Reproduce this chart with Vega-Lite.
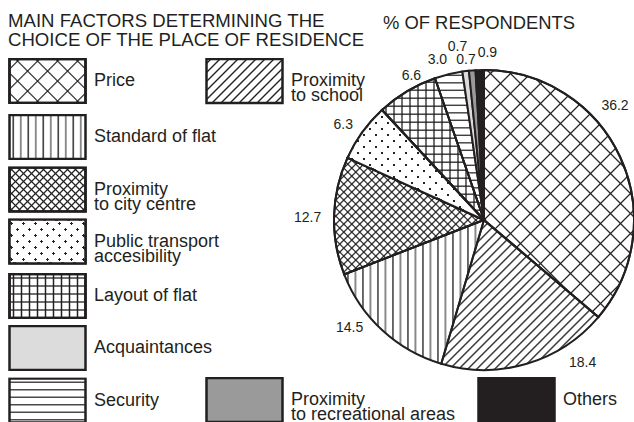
{
"$schema": "https://vega.github.io/schema/vega-lite/v6.json",
"width": 300, "height": 300,
"autosize": {"type": "none"},
"padding": {"left": 334, "top": 70, "right": 0, "bottom": 52},
"background": "white",
"title": {"text": "% OF RESPONDENTS", "anchor": "start", "frame": "group", "dx": 49, "offset": -35, "baseline": "alphabetic", "font": "Liberation Sans", "fontSize": 18.4, "fontWeight": "normal", "color": "#231f20"},
"params": [
{"name": "S20a", "value": [
{"offset":0.021,"color":"transparent"},{"offset":0.025,"color":"#222"},{"offset":0.029,"color":"transparent"},
{"offset":0.071,"color":"transparent"},{"offset":0.075,"color":"#222"},{"offset":0.079,"color":"transparent"},
{"offset":0.121,"color":"transparent"},{"offset":0.125,"color":"#222"},{"offset":0.129,"color":"transparent"},
{"offset":0.171,"color":"transparent"},{"offset":0.175,"color":"#222"},{"offset":0.179,"color":"transparent"},
{"offset":0.221,"color":"transparent"},{"offset":0.225,"color":"#222"},{"offset":0.229,"color":"transparent"},
{"offset":0.271,"color":"transparent"},{"offset":0.275,"color":"#222"},{"offset":0.279,"color":"transparent"},
{"offset":0.321,"color":"transparent"},{"offset":0.325,"color":"#222"},{"offset":0.329,"color":"transparent"},
{"offset":0.371,"color":"transparent"},{"offset":0.375,"color":"#222"},{"offset":0.379,"color":"transparent"},
{"offset":0.421,"color":"transparent"},{"offset":0.425,"color":"#222"},{"offset":0.429,"color":"transparent"},
{"offset":0.471,"color":"transparent"},{"offset":0.475,"color":"#222"},{"offset":0.479,"color":"transparent"},
{"offset":0.521,"color":"transparent"},{"offset":0.525,"color":"#222"},{"offset":0.529,"color":"transparent"},
{"offset":0.571,"color":"transparent"},{"offset":0.575,"color":"#222"},{"offset":0.579,"color":"transparent"},
{"offset":0.621,"color":"transparent"},{"offset":0.625,"color":"#222"},{"offset":0.629,"color":"transparent"},
{"offset":0.671,"color":"transparent"},{"offset":0.675,"color":"#222"},{"offset":0.679,"color":"transparent"},
{"offset":0.721,"color":"transparent"},{"offset":0.725,"color":"#222"},{"offset":0.729,"color":"transparent"},
{"offset":0.771,"color":"transparent"},{"offset":0.775,"color":"#222"},{"offset":0.779,"color":"transparent"},
{"offset":0.821,"color":"transparent"},{"offset":0.825,"color":"#222"},{"offset":0.829,"color":"transparent"},
{"offset":0.871,"color":"transparent"},{"offset":0.875,"color":"#222"},{"offset":0.879,"color":"transparent"},
{"offset":0.921,"color":"transparent"},{"offset":0.925,"color":"#222"},{"offset":0.929,"color":"transparent"},
{"offset":0.971,"color":"transparent"},{"offset":0.975,"color":"#222"},{"offset":0.979,"color":"transparent"}
]},
{"name": "S20b", "value": [
{"offset":0.017,"color":"transparent"},{"offset":0.025,"color":"#222"},{"offset":0.033,"color":"transparent"},
{"offset":0.067,"color":"transparent"},{"offset":0.075,"color":"#222"},{"offset":0.083,"color":"transparent"},
{"offset":0.117,"color":"transparent"},{"offset":0.125,"color":"#222"},{"offset":0.133,"color":"transparent"},
{"offset":0.167,"color":"transparent"},{"offset":0.175,"color":"#222"},{"offset":0.183,"color":"transparent"},
{"offset":0.217,"color":"transparent"},{"offset":0.225,"color":"#222"},{"offset":0.233,"color":"transparent"},
{"offset":0.267,"color":"transparent"},{"offset":0.275,"color":"#222"},{"offset":0.283,"color":"transparent"},
{"offset":0.317,"color":"transparent"},{"offset":0.325,"color":"#222"},{"offset":0.333,"color":"transparent"},
{"offset":0.367,"color":"transparent"},{"offset":0.375,"color":"#222"},{"offset":0.383,"color":"transparent"},
{"offset":0.417,"color":"transparent"},{"offset":0.425,"color":"#222"},{"offset":0.433,"color":"transparent"},
{"offset":0.467,"color":"transparent"},{"offset":0.475,"color":"#222"},{"offset":0.483,"color":"transparent"},
{"offset":0.517,"color":"transparent"},{"offset":0.525,"color":"#222"},{"offset":0.533,"color":"transparent"},
{"offset":0.567,"color":"transparent"},{"offset":0.575,"color":"#222"},{"offset":0.583,"color":"transparent"},
{"offset":0.617,"color":"transparent"},{"offset":0.625,"color":"#222"},{"offset":0.633,"color":"transparent"},
{"offset":0.667,"color":"transparent"},{"offset":0.675,"color":"#222"},{"offset":0.683,"color":"transparent"},
{"offset":0.717,"color":"transparent"},{"offset":0.725,"color":"#222"},{"offset":0.733,"color":"transparent"},
{"offset":0.767,"color":"transparent"},{"offset":0.775,"color":"#222"},{"offset":0.783,"color":"transparent"},
{"offset":0.817,"color":"transparent"},{"offset":0.825,"color":"#222"},{"offset":0.833,"color":"transparent"},
{"offset":0.867,"color":"transparent"},{"offset":0.875,"color":"#222"},{"offset":0.883,"color":"transparent"},
{"offset":0.917,"color":"transparent"},{"offset":0.925,"color":"#222"},{"offset":0.933,"color":"transparent"},
{"offset":0.967,"color":"transparent"},{"offset":0.975,"color":"#222"},{"offset":0.983,"color":"transparent"}
]},
{"name": "V20", "value": [
{"offset":0.016,"color":"transparent"},{"offset":0.025,"color":"#222"},{"offset":0.034,"color":"transparent"},
{"offset":0.066,"color":"transparent"},{"offset":0.075,"color":"#888"},{"offset":0.084,"color":"transparent"},
{"offset":0.116,"color":"transparent"},{"offset":0.125,"color":"#222"},{"offset":0.134,"color":"transparent"},
{"offset":0.166,"color":"transparent"},{"offset":0.175,"color":"#888"},{"offset":0.184,"color":"transparent"},
{"offset":0.216,"color":"transparent"},{"offset":0.225,"color":"#222"},{"offset":0.234,"color":"transparent"},
{"offset":0.266,"color":"transparent"},{"offset":0.275,"color":"#888"},{"offset":0.284,"color":"transparent"},
{"offset":0.316,"color":"transparent"},{"offset":0.325,"color":"#222"},{"offset":0.334,"color":"transparent"},
{"offset":0.366,"color":"transparent"},{"offset":0.375,"color":"#888"},{"offset":0.384,"color":"transparent"},
{"offset":0.416,"color":"transparent"},{"offset":0.425,"color":"#222"},{"offset":0.434,"color":"transparent"},
{"offset":0.466,"color":"transparent"},{"offset":0.475,"color":"#888"},{"offset":0.484,"color":"transparent"},
{"offset":0.516,"color":"transparent"},{"offset":0.525,"color":"#222"},{"offset":0.534,"color":"transparent"},
{"offset":0.566,"color":"transparent"},{"offset":0.575,"color":"#888"},{"offset":0.584,"color":"transparent"},
{"offset":0.616,"color":"transparent"},{"offset":0.625,"color":"#222"},{"offset":0.634,"color":"transparent"},
{"offset":0.666,"color":"transparent"},{"offset":0.675,"color":"#888"},{"offset":0.684,"color":"transparent"},
{"offset":0.716,"color":"transparent"},{"offset":0.725,"color":"#222"},{"offset":0.734,"color":"transparent"},
{"offset":0.766,"color":"transparent"},{"offset":0.775,"color":"#888"},{"offset":0.784,"color":"transparent"},
{"offset":0.816,"color":"transparent"},{"offset":0.825,"color":"#222"},{"offset":0.834,"color":"transparent"},
{"offset":0.866,"color":"transparent"},{"offset":0.875,"color":"#888"},{"offset":0.884,"color":"transparent"},
{"offset":0.916,"color":"transparent"},{"offset":0.925,"color":"#222"},{"offset":0.934,"color":"transparent"},
{"offset":0.966,"color":"transparent"},{"offset":0.975,"color":"#888"},{"offset":0.984,"color":"transparent"}
]},
{"name": "S40", "value": [
{"offset":0.0075,"color":"transparent"},{"offset":0.0125,"color":"#222"},{"offset":0.0175,"color":"transparent"},
{"offset":0.0325,"color":"transparent"},{"offset":0.0375,"color":"#222"},{"offset":0.0425,"color":"transparent"},
{"offset":0.0575,"color":"transparent"},{"offset":0.0625,"color":"#222"},{"offset":0.0675,"color":"transparent"},
{"offset":0.0825,"color":"transparent"},{"offset":0.0875,"color":"#222"},{"offset":0.0925,"color":"transparent"},
{"offset":0.1075,"color":"transparent"},{"offset":0.1125,"color":"#222"},{"offset":0.1175,"color":"transparent"},
{"offset":0.1325,"color":"transparent"},{"offset":0.1375,"color":"#222"},{"offset":0.1425,"color":"transparent"},
{"offset":0.1575,"color":"transparent"},{"offset":0.1625,"color":"#222"},{"offset":0.1675,"color":"transparent"},
{"offset":0.1825,"color":"transparent"},{"offset":0.1875,"color":"#222"},{"offset":0.1925,"color":"transparent"},
{"offset":0.2075,"color":"transparent"},{"offset":0.2125,"color":"#222"},{"offset":0.2175,"color":"transparent"},
{"offset":0.2325,"color":"transparent"},{"offset":0.2375,"color":"#222"},{"offset":0.2425,"color":"transparent"},
{"offset":0.2575,"color":"transparent"},{"offset":0.2625,"color":"#222"},{"offset":0.2675,"color":"transparent"},
{"offset":0.2825,"color":"transparent"},{"offset":0.2875,"color":"#222"},{"offset":0.2925,"color":"transparent"},
{"offset":0.3075,"color":"transparent"},{"offset":0.3125,"color":"#222"},{"offset":0.3175,"color":"transparent"},
{"offset":0.3325,"color":"transparent"},{"offset":0.3375,"color":"#222"},{"offset":0.3425,"color":"transparent"},
{"offset":0.3575,"color":"transparent"},{"offset":0.3625,"color":"#222"},{"offset":0.3675,"color":"transparent"},
{"offset":0.3825,"color":"transparent"},{"offset":0.3875,"color":"#222"},{"offset":0.3925,"color":"transparent"},
{"offset":0.4075,"color":"transparent"},{"offset":0.4125,"color":"#222"},{"offset":0.4175,"color":"transparent"},
{"offset":0.4325,"color":"transparent"},{"offset":0.4375,"color":"#222"},{"offset":0.4425,"color":"transparent"},
{"offset":0.4575,"color":"transparent"},{"offset":0.4625,"color":"#222"},{"offset":0.4675,"color":"transparent"},
{"offset":0.4825,"color":"transparent"},{"offset":0.4875,"color":"#222"},{"offset":0.4925,"color":"transparent"},
{"offset":0.5075,"color":"transparent"},{"offset":0.5125,"color":"#222"},{"offset":0.5175,"color":"transparent"},
{"offset":0.5325,"color":"transparent"},{"offset":0.5375,"color":"#222"},{"offset":0.5425,"color":"transparent"},
{"offset":0.5575,"color":"transparent"},{"offset":0.5625,"color":"#222"},{"offset":0.5675,"color":"transparent"},
{"offset":0.5825,"color":"transparent"},{"offset":0.5875,"color":"#222"},{"offset":0.5925,"color":"transparent"},
{"offset":0.6075,"color":"transparent"},{"offset":0.6125,"color":"#222"},{"offset":0.6175,"color":"transparent"},
{"offset":0.6325,"color":"transparent"},{"offset":0.6375,"color":"#222"},{"offset":0.6425,"color":"transparent"},
{"offset":0.6575,"color":"transparent"},{"offset":0.6625,"color":"#222"},{"offset":0.6675,"color":"transparent"},
{"offset":0.6825,"color":"transparent"},{"offset":0.6875,"color":"#222"},{"offset":0.6925,"color":"transparent"},
{"offset":0.7075,"color":"transparent"},{"offset":0.7125,"color":"#222"},{"offset":0.7175,"color":"transparent"},
{"offset":0.7325,"color":"transparent"},{"offset":0.7375,"color":"#222"},{"offset":0.7425,"color":"transparent"},
{"offset":0.7575,"color":"transparent"},{"offset":0.7625,"color":"#222"},{"offset":0.7675,"color":"transparent"},
{"offset":0.7825,"color":"transparent"},{"offset":0.7875,"color":"#222"},{"offset":0.7925,"color":"transparent"},
{"offset":0.8075,"color":"transparent"},{"offset":0.8125,"color":"#222"},{"offset":0.8175,"color":"transparent"},
{"offset":0.8325,"color":"transparent"},{"offset":0.8375,"color":"#222"},{"offset":0.8425,"color":"transparent"},
{"offset":0.8575,"color":"transparent"},{"offset":0.8625,"color":"#222"},{"offset":0.8675,"color":"transparent"},
{"offset":0.8825,"color":"transparent"},{"offset":0.8875,"color":"#222"},{"offset":0.8925,"color":"transparent"},
{"offset":0.9075,"color":"transparent"},{"offset":0.9125,"color":"#222"},{"offset":0.9175,"color":"transparent"},
{"offset":0.9325,"color":"transparent"},{"offset":0.9375,"color":"#222"},{"offset":0.9425,"color":"transparent"},
{"offset":0.9575,"color":"transparent"},{"offset":0.9625,"color":"#222"},{"offset":0.9675,"color":"transparent"},
{"offset":0.9825,"color":"transparent"},{"offset":0.9875,"color":"#222"},{"offset":0.9925,"color":"transparent"}
]},
{"name": "D25b", "value": [
{"offset":0.015,"color":"transparent"},{"offset":0.015,"color":"#222"},{"offset":0.025,"color":"#222"},{"offset":0.025,"color":"transparent"},
{"offset":0.055,"color":"transparent"},{"offset":0.055,"color":"#222"},{"offset":0.065,"color":"#222"},{"offset":0.065,"color":"transparent"},
{"offset":0.095,"color":"transparent"},{"offset":0.095,"color":"#222"},{"offset":0.105,"color":"#222"},{"offset":0.105,"color":"transparent"},
{"offset":0.135,"color":"transparent"},{"offset":0.135,"color":"#222"},{"offset":0.145,"color":"#222"},{"offset":0.145,"color":"transparent"},
{"offset":0.175,"color":"transparent"},{"offset":0.175,"color":"#222"},{"offset":0.185,"color":"#222"},{"offset":0.185,"color":"transparent"},
{"offset":0.215,"color":"transparent"},{"offset":0.215,"color":"#222"},{"offset":0.225,"color":"#222"},{"offset":0.225,"color":"transparent"},
{"offset":0.255,"color":"transparent"},{"offset":0.255,"color":"#222"},{"offset":0.265,"color":"#222"},{"offset":0.265,"color":"transparent"},
{"offset":0.295,"color":"transparent"},{"offset":0.295,"color":"#222"},{"offset":0.305,"color":"#222"},{"offset":0.305,"color":"transparent"},
{"offset":0.335,"color":"transparent"},{"offset":0.335,"color":"#222"},{"offset":0.345,"color":"#222"},{"offset":0.345,"color":"transparent"},
{"offset":0.375,"color":"transparent"},{"offset":0.375,"color":"#222"},{"offset":0.385,"color":"#222"},{"offset":0.385,"color":"transparent"},
{"offset":0.415,"color":"transparent"},{"offset":0.415,"color":"#222"},{"offset":0.425,"color":"#222"},{"offset":0.425,"color":"transparent"},
{"offset":0.455,"color":"transparent"},{"offset":0.455,"color":"#222"},{"offset":0.465,"color":"#222"},{"offset":0.465,"color":"transparent"},
{"offset":0.495,"color":"transparent"},{"offset":0.495,"color":"#222"},{"offset":0.505,"color":"#222"},{"offset":0.505,"color":"transparent"},
{"offset":0.535,"color":"transparent"},{"offset":0.535,"color":"#222"},{"offset":0.545,"color":"#222"},{"offset":0.545,"color":"transparent"},
{"offset":0.575,"color":"transparent"},{"offset":0.575,"color":"#222"},{"offset":0.585,"color":"#222"},{"offset":0.585,"color":"transparent"},
{"offset":0.615,"color":"transparent"},{"offset":0.615,"color":"#222"},{"offset":0.625,"color":"#222"},{"offset":0.625,"color":"transparent"},
{"offset":0.655,"color":"transparent"},{"offset":0.655,"color":"#222"},{"offset":0.665,"color":"#222"},{"offset":0.665,"color":"transparent"},
{"offset":0.695,"color":"transparent"},{"offset":0.695,"color":"#222"},{"offset":0.705,"color":"#222"},{"offset":0.705,"color":"transparent"},
{"offset":0.735,"color":"transparent"},{"offset":0.735,"color":"#222"},{"offset":0.745,"color":"#222"},{"offset":0.745,"color":"transparent"},
{"offset":0.775,"color":"transparent"},{"offset":0.775,"color":"#222"},{"offset":0.785,"color":"#222"},{"offset":0.785,"color":"transparent"},
{"offset":0.815,"color":"transparent"},{"offset":0.815,"color":"#222"},{"offset":0.825,"color":"#222"},{"offset":0.825,"color":"transparent"},
{"offset":0.855,"color":"transparent"},{"offset":0.855,"color":"#222"},{"offset":0.865,"color":"#222"},{"offset":0.865,"color":"transparent"},
{"offset":0.895,"color":"transparent"},{"offset":0.895,"color":"#222"},{"offset":0.905,"color":"#222"},{"offset":0.905,"color":"transparent"},
{"offset":0.935,"color":"transparent"},{"offset":0.935,"color":"#222"},{"offset":0.945,"color":"#222"},{"offset":0.945,"color":"transparent"},
{"offset":0.975,"color":"transparent"},{"offset":0.975,"color":"#222"},{"offset":0.985,"color":"#222"},{"offset":0.985,"color":"transparent"}
]},
{"name": "D25w", "value": [
{"offset":0.015,"color":"#fff"},{"offset":0.015,"color":"transparent"},{"offset":0.025,"color":"transparent"},{"offset":0.025,"color":"#fff"},
{"offset":0.055,"color":"#fff"},{"offset":0.055,"color":"transparent"},{"offset":0.065,"color":"transparent"},{"offset":0.065,"color":"#fff"},
{"offset":0.095,"color":"#fff"},{"offset":0.095,"color":"transparent"},{"offset":0.105,"color":"transparent"},{"offset":0.105,"color":"#fff"},
{"offset":0.135,"color":"#fff"},{"offset":0.135,"color":"transparent"},{"offset":0.145,"color":"transparent"},{"offset":0.145,"color":"#fff"},
{"offset":0.175,"color":"#fff"},{"offset":0.175,"color":"transparent"},{"offset":0.185,"color":"transparent"},{"offset":0.185,"color":"#fff"},
{"offset":0.215,"color":"#fff"},{"offset":0.215,"color":"transparent"},{"offset":0.225,"color":"transparent"},{"offset":0.225,"color":"#fff"},
{"offset":0.255,"color":"#fff"},{"offset":0.255,"color":"transparent"},{"offset":0.265,"color":"transparent"},{"offset":0.265,"color":"#fff"},
{"offset":0.295,"color":"#fff"},{"offset":0.295,"color":"transparent"},{"offset":0.305,"color":"transparent"},{"offset":0.305,"color":"#fff"},
{"offset":0.335,"color":"#fff"},{"offset":0.335,"color":"transparent"},{"offset":0.345,"color":"transparent"},{"offset":0.345,"color":"#fff"},
{"offset":0.375,"color":"#fff"},{"offset":0.375,"color":"transparent"},{"offset":0.385,"color":"transparent"},{"offset":0.385,"color":"#fff"},
{"offset":0.415,"color":"#fff"},{"offset":0.415,"color":"transparent"},{"offset":0.425,"color":"transparent"},{"offset":0.425,"color":"#fff"},
{"offset":0.455,"color":"#fff"},{"offset":0.455,"color":"transparent"},{"offset":0.465,"color":"transparent"},{"offset":0.465,"color":"#fff"},
{"offset":0.495,"color":"#fff"},{"offset":0.495,"color":"transparent"},{"offset":0.505,"color":"transparent"},{"offset":0.505,"color":"#fff"},
{"offset":0.535,"color":"#fff"},{"offset":0.535,"color":"transparent"},{"offset":0.545,"color":"transparent"},{"offset":0.545,"color":"#fff"},
{"offset":0.575,"color":"#fff"},{"offset":0.575,"color":"transparent"},{"offset":0.585,"color":"transparent"},{"offset":0.585,"color":"#fff"},
{"offset":0.615,"color":"#fff"},{"offset":0.615,"color":"transparent"},{"offset":0.625,"color":"transparent"},{"offset":0.625,"color":"#fff"},
{"offset":0.655,"color":"#fff"},{"offset":0.655,"color":"transparent"},{"offset":0.665,"color":"transparent"},{"offset":0.665,"color":"#fff"},
{"offset":0.695,"color":"#fff"},{"offset":0.695,"color":"transparent"},{"offset":0.705,"color":"transparent"},{"offset":0.705,"color":"#fff"},
{"offset":0.735,"color":"#fff"},{"offset":0.735,"color":"transparent"},{"offset":0.745,"color":"transparent"},{"offset":0.745,"color":"#fff"},
{"offset":0.775,"color":"#fff"},{"offset":0.775,"color":"transparent"},{"offset":0.785,"color":"transparent"},{"offset":0.785,"color":"#fff"},
{"offset":0.815,"color":"#fff"},{"offset":0.815,"color":"transparent"},{"offset":0.825,"color":"transparent"},{"offset":0.825,"color":"#fff"},
{"offset":0.855,"color":"#fff"},{"offset":0.855,"color":"transparent"},{"offset":0.865,"color":"transparent"},{"offset":0.865,"color":"#fff"},
{"offset":0.895,"color":"#fff"},{"offset":0.895,"color":"transparent"},{"offset":0.905,"color":"transparent"},{"offset":0.905,"color":"#fff"},
{"offset":0.935,"color":"#fff"},{"offset":0.935,"color":"transparent"},{"offset":0.945,"color":"transparent"},{"offset":0.945,"color":"#fff"},
{"offset":0.975,"color":"#fff"},{"offset":0.975,"color":"transparent"},{"offset":0.985,"color":"transparent"},{"offset":0.985,"color":"#fff"}
]}
],
"data": {"values": [
{"factor": "Price", "pct": 36.2},
{"factor": "Proximity to school", "pct": 18.4},
{"factor": "Standard of flat", "pct": 14.5},
{"factor": "Proximity to city centre", "pct": 12.7},
{"factor": "Public transport accesibility", "pct": 6.3},
{"factor": "Layout of flat", "pct": 6.6},
{"factor": "Security", "pct": 3.0},
{"factor": "Acquaintances", "pct": 0.7},
{"factor": "Proximity to recreational areas", "pct": 0.7},
{"factor": "Others", "pct": 0.9}
]},
"layer": [
{"transform": [{"stack": "pct", "groupby": [], "as": ["t0", "t1"]}, {"filter": {"field": "factor", "equal": "Price"}}],
 "mark": {"type": "arc", "strokeWidth": 2, "fill": {"expr": "datum.t0 != null ? {gradient:'linear',x1:0,y1:0,x2:0.7182,y2:1.183,stops:S20a} : {gradient:'linear',x1:0,y1:0,x2:3.9419,y2:2.2822,stops:S20a}"}},
 "encoding": {"theta": {"field": "t0", "type": "quantitative", "stack": null, "scale": {"domain": [0, 100]}}, "theta2": {"field": "t1"},
  "stroke": {"field": "factor", "type": "nominal", "scale": {"range": ["#231f20"]}, "legend": {"orient": "none", "legendX": -326, "legendY": -58, "title": ["MAIN FACTORS DETERMINING THE", "CHOICE OF THE PLACE OF RESIDENCE"]}}}},
{"transform": [{"stack": "pct", "groupby": [], "as": ["t0", "t1"]}, {"filter": {"field": "factor", "equal": "Price"}}],
 "mark": {"type": "arc", "strokeWidth": 2, "fill": {"expr": "datum.t0 != null ? {gradient:'linear',x1:0,y1:1,x2:0.7182,y2:-0.183,stops:S20a} : {gradient:'linear',x1:0,y1:1,x2:3.9419,y2:-1.2822,stops:S20a}"}},
 "encoding": {"theta": {"field": "t0", "type": "quantitative", "stack": null, "scale": {"domain": [0, 100]}}, "theta2": {"field": "t1"},
  "stroke": {"field": "factor", "type": "nominal", "scale": {"range": ["#231f20"]}, "legend": {"orient": "none", "legendX": -326, "legendY": -12, "title": null, "labelExpr": "''"}}}},
{"transform": [{"stack": "pct", "groupby": [], "as": ["t0", "t1"]}, {"filter": {"field": "factor", "equal": "Proximity to school"}}],
 "mark": {"type": "arc", "strokeWidth": 2, "fill": {"expr": "datum.t0 != null ? {gradient:'linear',x1:0,y1:0,x2:1.1987,y2:1.1443,stops:S40} : {gradient:'linear',x1:0,y1:0,x2:3.5477,y2:2.0539,stops:S40}"}},
 "encoding": {"theta": {"field": "t0", "type": "quantitative", "stack": null, "scale": {"domain": [0, 100]}}, "theta2": {"field": "t1"},
  "stroke": {"field": "factor", "type": "nominal", "scale": {"range": ["#231f20"]}, "legend": {"orient": "none", "legendX": -129, "legendY": -12, "title": null, "labelExpr": "[slice(datum.label,0,9), slice(datum.label,10)]"}}}},
{"transform": [{"stack": "pct", "groupby": [], "as": ["t0", "t1"]}, {"filter": {"field": "factor", "equal": "Standard of flat"}}],
 "mark": {"type": "arc", "strokeWidth": 2, "fill": {"expr": "datum.t0 != null ? {gradient:'linear',x1:0,y1:0,x2:1.0729,y2:0,stops:V20} : {gradient:'linear',x1:0,y1:0,x2:1.9737,y2:0,stops:V20}"}},
 "encoding": {"theta": {"field": "t0", "type": "quantitative", "stack": null, "scale": {"domain": [0, 100]}}, "theta2": {"field": "t1"},
  "stroke": {"field": "factor", "type": "nominal", "scale": {"range": ["#231f20"]}, "legend": {"orient": "none", "legendX": -326, "legendY": 44, "title": null}}}},
{"transform": [{"stack": "pct", "groupby": [], "as": ["t0", "t1"]}, {"filter": {"field": "factor", "equal": "Proximity to city centre"}}],
 "mark": {"type": "arc", "strokeWidth": 2, "fill": {"expr": "datum.t0 != null ? {gradient:'linear',x1:0,y1:0,x2:1.3307,y2:1.0335,stops:S40} : {gradient:'linear',x1:0,y1:0,x2:3.1535,y2:1.8257,stops:S40}"}},
 "encoding": {"theta": {"field": "t0", "type": "quantitative", "stack": null, "scale": {"domain": [0, 100]}}, "theta2": {"field": "t1"},
  "stroke": {"field": "factor", "type": "nominal", "scale": {"range": ["#231f20"]}, "legend": {"orient": "none", "legendX": -326, "legendY": 96.5, "title": null, "labelExpr": "[slice(datum.label,0,9), slice(datum.label,10)]"}}}},
{"transform": [{"stack": "pct", "groupby": [], "as": ["t0", "t1"]}, {"filter": {"field": "factor", "equal": "Proximity to city centre"}}],
 "mark": {"type": "arc", "strokeWidth": 2, "fill": {"expr": "datum.t0 != null ? {gradient:'linear',x1:0,y1:1,x2:1.3307,y2:-0.0335,stops:S40} : {gradient:'linear',x1:0,y1:1,x2:3.1535,y2:-0.8257,stops:S40}"}},
 "encoding": {"theta": {"field": "t0", "type": "quantitative", "stack": null, "scale": {"domain": [0, 100]}}, "theta2": {"field": "t1"},
  "stroke": {"field": "factor", "type": "nominal", "scale": {"range": ["#231f20"]}, "legend": {"orient": "none", "legendX": -326, "legendY": 96.5, "title": null, "labelExpr": "''"}}}},
{"transform": [{"stack": "pct", "groupby": [], "as": ["t0", "t1"]}, {"filter": {"field": "factor", "equal": "Public transport accesibility"}}],
 "mark": {"type": "arc", "strokeWidth": 2, "fill": {"expr": "datum.t0 != null ? {gradient:'linear',x1:0,y1:0,x2:1.3326,y2:1.0736,stops:D25b} : {gradient:'linear',x1:0,y1:0,x2:2.9564,y2:1.7116,stops:D25b}"}},
 "encoding": {"theta": {"field": "t0", "type": "quantitative", "stack": null, "scale": {"domain": [0, 100]}}, "theta2": {"field": "t1"},
  "stroke": {"field": "factor", "type": "nominal", "scale": {"range": ["#231f20"]}, "legend": {"orient": "none", "legendX": -326, "legendY": 148.5, "title": null, "labelExpr": "[slice(datum.label,0,16), slice(datum.label,17)]"}}}},
{"transform": [{"stack": "pct", "groupby": [], "as": ["t0", "t1"]}, {"filter": {"field": "factor", "equal": "Public transport accesibility"}}],
 "mark": {"type": "arc", "strokeWidth": 2, "fill": {"expr": "datum.t0 != null ? {gradient:'linear',x1:0,y1:1,x2:1.3326,y2:-0.0736,stops:D25w} : {gradient:'linear',x1:0,y1:1,x2:2.9564,y2:-0.7116,stops:D25w}"}},
 "encoding": {"theta": {"field": "t0", "type": "quantitative", "stack": null, "scale": {"domain": [0, 100]}}, "theta2": {"field": "t1"},
  "stroke": {"field": "factor", "type": "nominal", "scale": {"range": ["#231f20"]}, "legend": {"orient": "none", "legendX": -326, "legendY": 148.5, "title": null, "labelExpr": "''"}}}},
{"transform": [{"stack": "pct", "groupby": [], "as": ["t0", "t1"]}, {"filter": {"field": "factor", "equal": "Layout of flat"}}],
 "mark": {"type": "arc", "strokeWidth": 2, "fill": {"expr": "datum.t0 != null ? {gradient:'linear',x1:0,y1:0,x2:0,y2:1.1287,stops:S20b} : {gradient:'linear',x1:0,y1:0,x2:0,y2:3.6364,stops:S20b}"}},
 "encoding": {"theta": {"field": "t0", "type": "quantitative", "stack": null, "scale": {"domain": [0, 100]}}, "theta2": {"field": "t1"},
  "stroke": {"field": "factor", "type": "nominal", "scale": {"range": ["#231f20"]}, "legend": {"orient": "none", "legendX": -326, "legendY": 203, "title": null}}}},
{"transform": [{"stack": "pct", "groupby": [], "as": ["t0", "t1"]}, {"filter": {"field": "factor", "equal": "Layout of flat"}}],
 "mark": {"type": "arc", "strokeWidth": 2, "fill": {"expr": "datum.t0 != null ? {gradient:'linear',x1:0,y1:0,x2:1.5685,y2:0,stops:S20b} : {gradient:'linear',x1:0,y1:0,x2:2.1053,y2:0,stops:S20b}"}},
 "encoding": {"theta": {"field": "t0", "type": "quantitative", "stack": null, "scale": {"domain": [0, 100]}}, "theta2": {"field": "t1"},
  "stroke": {"field": "factor", "type": "nominal", "scale": {"range": ["#231f20"]}, "legend": {"orient": "none", "legendX": -326, "legendY": 203, "title": null, "labelExpr": "''"}}}},
{"transform": [{"stack": "pct", "groupby": [], "as": ["t0", "t1"]}, {"filter": {"field": "factor", "equal": "Security"}}],
 "mark": {"type": "arc", "strokeWidth": 2, "fill": {"expr": "datum.t0 != null ? {gradient:'linear',x1:0,y1:0,x2:0,y2:1.0105,stops:S20b} : {gradient:'linear',x1:0,y1:0,x2:0,y2:3.4091,stops:S20b}"}},
 "encoding": {"theta": {"field": "t0", "type": "quantitative", "stack": null, "scale": {"domain": [0, 100]}}, "theta2": {"field": "t1"},
  "stroke": {"field": "factor", "type": "nominal", "scale": {"range": ["#231f20"]}, "legend": {"orient": "none", "legendX": -326, "legendY": 307.5, "title": null}}}},
{"transform": [{"stack": "pct", "groupby": [], "as": ["t0", "t1"]}, {"filter": {"field": "factor", "equal": "Acquaintances"}}],
 "mark": {"type": "arc", "strokeWidth": 2, "fill": "#dcdcdc"},
 "encoding": {"theta": {"field": "t0", "type": "quantitative", "stack": null, "scale": {"domain": [0, 100]}}, "theta2": {"field": "t1"},
  "stroke": {"field": "factor", "type": "nominal", "scale": {"range": ["#231f20"]}, "legend": {"orient": "none", "legendX": -326, "legendY": 255, "title": null}}}},
{"transform": [{"stack": "pct", "groupby": [], "as": ["t0", "t1"]}, {"filter": {"field": "factor", "equal": "Proximity to recreational areas"}}],
 "mark": {"type": "arc", "strokeWidth": 2, "fill": "#9a9a9a"},
 "encoding": {"theta": {"field": "t0", "type": "quantitative", "stack": null, "scale": {"domain": [0, 100]}}, "theta2": {"field": "t1"},
  "stroke": {"field": "factor", "type": "nominal", "scale": {"range": ["#231f20"]}, "legend": {"orient": "none", "legendX": -129, "legendY": 307, "title": null, "labelExpr": "[slice(datum.label,0,9), slice(datum.label,10)]"}}}},
{"transform": [{"stack": "pct", "groupby": [], "as": ["t0", "t1"]}, {"filter": {"field": "factor", "equal": "Others"}}],
 "mark": {"type": "arc", "strokeWidth": 2, "fill": "#231f20"},
 "encoding": {"theta": {"field": "t0", "type": "quantitative", "stack": null, "scale": {"domain": [0, 100]}}, "theta2": {"field": "t1"},
  "stroke": {"field": "factor", "type": "nominal", "scale": {"range": ["#231f20"]}, "legend": {"orient": "none", "legendX": 143, "legendY": 307, "title": null}}}},
{"transform": [{"stack": "pct", "groupby": [], "as": ["t0", "t1"]}, {"filter": {"field": "factor", "equal": "Price"}}],
 "mark": {"type": "text", "radius": 170, "dx": 131, "dy": 56, "font": "Liberation Sans", "fontSize": 14, "fill": "#231f20"},
 "encoding": {"theta": {"field": "t0", "type": "quantitative", "stack": null}, "text": {"field": "pct", "type": "quantitative", "format": ".1f"}}},
{"transform": [{"stack": "pct", "groupby": [], "as": ["t0", "t1"]}, {"filter": {"field": "factor", "equal": "Proximity to school"}}],
 "mark": {"type": "text", "radius": 170, "dx": -31, "dy": 33, "font": "Liberation Sans", "fontSize": 14, "fill": "#231f20"},
 "encoding": {"theta": {"field": "t0", "type": "quantitative", "stack": null}, "text": {"field": "pct", "type": "quantitative", "format": ".1f"}}},
{"transform": [{"stack": "pct", "groupby": [], "as": ["t0", "t1"]}, {"filter": {"field": "factor", "equal": "Standard of flat"}}],
 "mark": {"type": "text", "radius": 170, "dx": -86, "dy": -55, "font": "Liberation Sans", "fontSize": 14, "fill": "#231f20"},
 "encoding": {"theta": {"field": "t0", "type": "quantitative", "stack": null}, "text": {"field": "pct", "type": "quantitative", "format": ".1f"}}},
{"transform": [{"stack": "pct", "groupby": [], "as": ["t0", "t1"]}, {"filter": {"field": "factor", "equal": "Proximity to city centre"}}],
 "mark": {"type": "text", "radius": 170, "dx": -18, "dy": -64, "font": "Liberation Sans", "fontSize": 14, "fill": "#231f20"},
 "encoding": {"theta": {"field": "t0", "type": "quantitative", "stack": null}, "text": {"field": "pct", "type": "quantitative", "format": ".1f"}}},
{"transform": [{"stack": "pct", "groupby": [], "as": ["t0", "t1"]}, {"filter": {"field": "factor", "equal": "Public transport accesibility"}}],
 "mark": {"type": "text", "radius": 170, "dx": 14, "dy": -25, "font": "Liberation Sans", "fontSize": 14, "fill": "#231f20"},
 "encoding": {"theta": {"field": "t0", "type": "quantitative", "stack": null}, "text": {"field": "pct", "type": "quantitative", "format": ".1f"}}},
{"transform": [{"stack": "pct", "groupby": [], "as": ["t0", "t1"]}, {"filter": {"field": "factor", "equal": "Layout of flat"}}],
 "mark": {"type": "text", "radius": 170, "dx": 43, "dy": -19, "font": "Liberation Sans", "fontSize": 14, "fill": "#231f20"},
 "encoding": {"theta": {"field": "t0", "type": "quantitative", "stack": null}, "text": {"field": "pct", "type": "quantitative", "format": ".1f"}}},
{"transform": [{"stack": "pct", "groupby": [], "as": ["t0", "t1"]}, {"filter": {"field": "factor", "equal": "Security"}}],
 "mark": {"type": "text", "radius": 170, "dx": 9, "dy": 1, "font": "Liberation Sans", "fontSize": 14, "fill": "#231f20"},
 "encoding": {"theta": {"field": "t0", "type": "quantitative", "stack": null}, "text": {"field": "pct", "type": "quantitative", "format": ".1f"}}},
{"transform": [{"stack": "pct", "groupby": [], "as": ["t0", "t1"]}, {"filter": {"field": "factor", "equal": "Acquaintances"}}],
 "mark": {"type": "text", "radius": 170, "dx": -2, "dy": -5, "font": "Liberation Sans", "fontSize": 14, "fill": "#231f20"},
 "encoding": {"theta": {"field": "t0", "type": "quantitative", "stack": null}, "text": {"field": "pct", "type": "quantitative", "format": ".1f"}}},
{"transform": [{"stack": "pct", "groupby": [], "as": ["t0", "t1"]}, {"filter": {"field": "factor", "equal": "Proximity to recreational areas"}}],
 "mark": {"type": "text", "radius": 170, "dx": -1, "dy": 9, "font": "Liberation Sans", "fontSize": 14, "fill": "#231f20"},
 "encoding": {"theta": {"field": "t0", "type": "quantitative", "stack": null}, "text": {"field": "pct", "type": "quantitative", "format": ".1f"}}},
{"transform": [{"stack": "pct", "groupby": [], "as": ["t0", "t1"]}, {"filter": {"field": "factor", "equal": "Others"}}],
 "mark": {"type": "text", "radius": 170, "dx": 13, "dy": 3, "font": "Liberation Sans", "fontSize": 14, "fill": "#231f20"},
 "encoding": {"theta": {"field": "t0", "type": "quantitative", "stack": null}, "text": {"field": "pct", "type": "quantitative", "format": ".1f"}}}
],
"resolve": {"scale": {"stroke": "independent"}, "legend": {"stroke": "independent"}},
"config": {
 "view": {"stroke": null},
 "font": "Liberation Sans",
 "style": {"guide-label": {"lineHeight": 15}},
 "legend": {
  "padding": 0,
  "symbolType": "M-1,-0.5789L1,-0.5789L1,0.5789L-1,0.5789Z",
  "symbolSize": 5776,
  "symbolStrokeWidth": 2.5,
  "clipHeight": 46,
  "labelFont": "Liberation Sans",
  "labelFontSize": 18,
  "labelColor": "#231f20",
  "labelOffset": 7,
  "labelLimit": 0,
  "titleFont": "Liberation Sans",
  "titleFontSize": 18.6,
  "titleFontWeight": "normal",
  "titleColor": "#231f20",
  "titleLineHeight": 18.5,
  "titleLimit": 0,
  "titlePadding": 9,
  "titleBaseline": "top"
 }
}
}
